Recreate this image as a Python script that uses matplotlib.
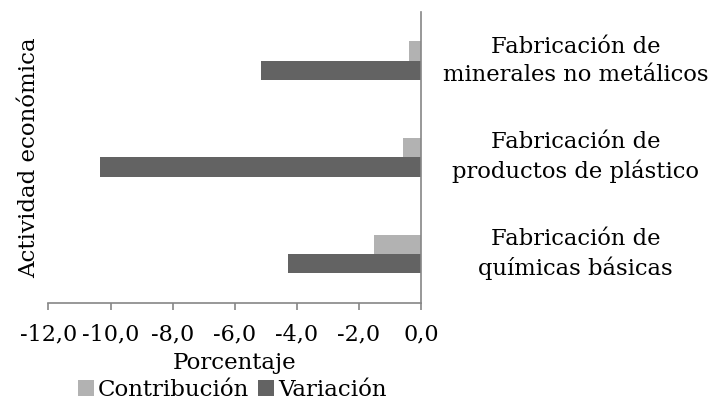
import matplotlib
matplotlib.use("Agg")
import matplotlib.pyplot as plt
import numpy as np

# data (bottom to top)
categorias   = ['Fabricación de\nquímicas básicas',
                'Fabricación de\nproductos de plástico',
                'Fabricación de\nminerales no metálicos']
contribucion = [-1.50, -0.58, -0.39]
variacion    = [-4.29, -10.34, -5.15]
ticks        = [-12, -10, -8, -6, -4, -2, 0]

plt.rcParams['font.family'] = 'DejaVu Serif'
plt.rcParams['font.size'] = 16

fig = plt.figure(figsize=(7.15, 4.05), dpi=100)
ax = fig.add_axes([0.0678, 0.253, 0.521, 0.717])

y = np.arange(len(categorias))
h = 0.2
ax.barh(y + h/2, contribucion, height=h, color='#b2b2b2', label='Contribución')
ax.barh(y - h/2, variacion, height=h, color='#636363', label='Variación')

ax.set_xlim(-12, 0)
ax.set_ylim(-0.5, 2.5)
ax.set_xticks(ticks)
ax.set_xticklabels([('%.1f' % t).replace('.', ',') for t in ticks])
ax.set_yticks([])

for s in ['top', 'left']:
    ax.spines[s].set_visible(False)
for s in ['bottom', 'right']:
    ax.spines[s].set_color('#868686')
    ax.spines[s].set_linewidth(1.2)
ax.tick_params(axis='x', colors='#868686', length=5, width=1.2,
               labelcolor='black', labelsize=16, pad=10)

for yi, lab in zip(y, categorias):
    ax.text(1.415, yi, lab, transform=ax.get_yaxis_transform(),
            ha='center', va='center', multialignment='center',
            fontsize=16.3, linespacing=1.35)

ax.set_xlabel('Porcentaje', fontsize=16.5, labelpad=5)
ax.set_ylabel('Actividad económica', fontsize=16.5, labelpad=6)

fig.legend(loc='lower center', bbox_to_anchor=(0.325, -0.04), ncol=2,
           frameon=False, fontsize=16.5, handlelength=0.7, handleheight=0.7,
           handletextpad=0.15, columnspacing=0.4)

fig.savefig('out.png', dpi=100)
